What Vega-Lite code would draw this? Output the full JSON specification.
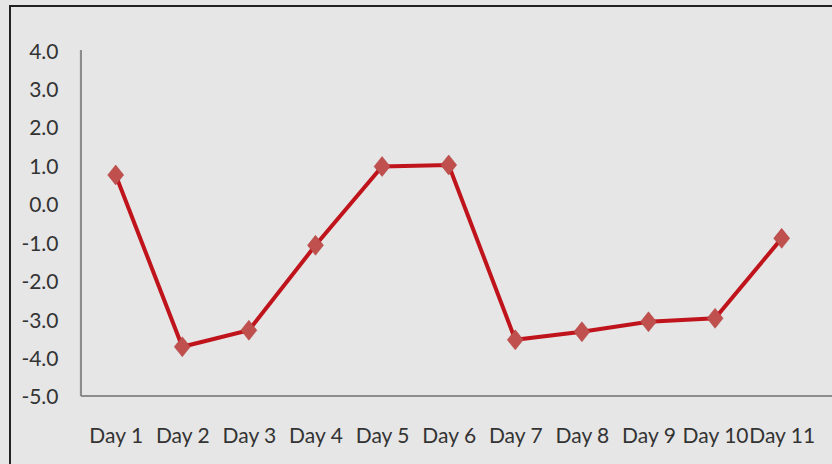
{
  "$schema": "https://vega.github.io/schema/vega-lite/v6.json",
  "width": 840,
  "height": 470,
  "autosize": {"type": "none"},
  "padding": {"left": 10, "top": 6, "right": 0, "bottom": 0},
  "background": "#e6e6e6",
  "config": {
    "view": {"stroke": "#222222", "strokeWidth": 2, "fill": "#e6e6e6"},
    "locale": {"number": {"decimal": ".", "thousands": ",", "grouping": [3], "currency": ["$", ""], "minus": "-"}},
    "axis": {
      "labelFont": "Lato",
      "labelFontSize": 21,
      "labelColor": "#333333",
      "domain": false,
      "ticks": false,
      "tickSize": 0,
      "grid": false
    }
  },
  "data": {
    "values": [
      {"day": 1, "value": 0.75},
      {"day": 2, "value": -3.72},
      {"day": 3, "value": -3.29},
      {"day": 4, "value": -1.08},
      {"day": 5, "value": 0.97},
      {"day": 6, "value": 1.01},
      {"day": 7, "value": -3.54},
      {"day": 8, "value": -3.33},
      {"day": 9, "value": -3.07},
      {"day": 10, "value": -2.98},
      {"day": 11, "value": -0.9}
    ]
  },
  "encoding": {
    "x": {
      "field": "day",
      "type": "quantitative",
      "scale": {"domain": [-0.587, 12.026], "nice": false, "zero": false},
      "axis": {
        "orient": "bottom",
        "title": null,
        "offset": -80,
        "values": [1, 2, 3, 4, 5, 6, 7, 8, 9, 10, 11],
        "labelExpr": "'Day ' + datum.value",
        "labelPadding": 29,
        "labelBaseline": "top",
        "labelFlush": false,
        "labelOverlap": false
      }
    },
    "y": {
      "field": "value",
      "type": "quantitative",
      "scale": {"domain": [-7.082, 5.145], "nice": false, "zero": false},
      "axis": {
        "orient": "left",
        "title": null,
        "offset": -71,
        "values": [-5, -4, -3, -2, -1, 0, 1, 2, 3, 4],
        "format": ".1f",
        "labelPadding": 23,
        "labelOffset": 2,
        "labelFlush": false,
        "labelOverlap": false
      }
    }
  },
  "layer": [
    {
      "mark": {"type": "rule", "color": "#8c8c8c", "strokeWidth": 2},
      "encoding": {
        "x": {"datum": 0.479, "type": "quantitative"},
        "y": {"datum": 4, "type": "quantitative"},
        "y2": {"datum": -5}
      }
    },
    {
      "mark": {"type": "rule", "color": "#8c8c8c", "strokeWidth": 2},
      "encoding": {
        "x": {"datum": 0.479, "type": "quantitative"},
        "x2": {"datum": 12.026},
        "y": {"datum": -5, "type": "quantitative"}
      }
    },
    {
      "mark": {"type": "line", "color": "#c0141c", "strokeWidth": 4}
    },
    {
      "mark": {
        "type": "point",
        "shape": "M-1,0L0,-1.25L1,0L0,1.25Z",
        "size": 256,
        "filled": true,
        "fill": "#c0504d",
        "stroke": "#b04040",
        "strokeWidth": 0.5,
        "opacity": 1
      }
    }
  ]
}
